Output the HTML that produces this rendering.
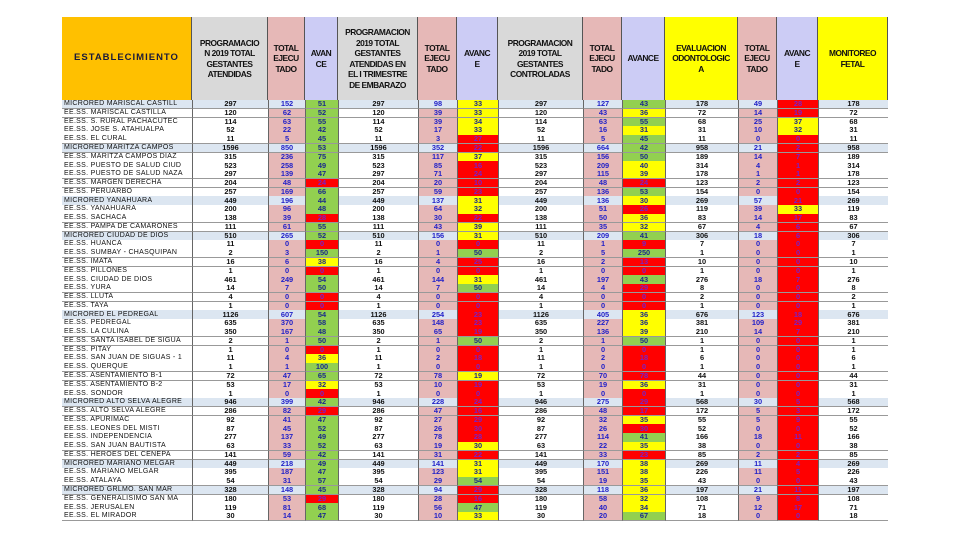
<!DOCTYPE html>
<html><head><meta charset="utf-8">
<style>
body{margin:0;width:960px;height:540px;background:#fff;overflow:hidden;position:relative;font-family:"Liberation Sans",Arial,sans-serif}
.h{position:absolute;top:17px;height:83px;display:flex;align-items:center;justify-content:center;text-align:center;font-size:8.4px;font-weight:bold;color:#111;line-height:10.5px;letter-spacing:-0.5px;box-sizing:border-box;border-right:1px solid #555}
.c{position:absolute;box-sizing:border-box;display:flex;align-items:center;justify-content:center;font-size:7.4px;line-height:8px;font-weight:bold;border-bottom:1px solid #999;overflow:hidden;white-space:nowrap}
.n{justify-content:flex-start;padding-left:2px;font-weight:normal;color:#333;letter-spacing:0.3px;font-size:7px}
</style></head><body>
<div id="tbl"></div>
<script>
const names=["MICRORED MARISCAL CASTILL","EE.SS. MARISCAL CASTILLA","EE.SS. S. RURAL PACHACUTEC","EE.SS. JOSE S. ATAHUALPA","EE.SS. EL CURAL","MICRORED MARITZA CAMPOS","EE.SS. MARITZA CAMPOS DIAZ","EE.SS. PUESTO DE SALUD CIUD","EE.SS. PUESTO DE SALUD NAZA","EE.SS. MARGEN DERECHA","EE.SS. PERUARBO","MICRORED YANAHUARA","EE.SS. YANAHUARA","EE.SS. SACHACA","EE.SS. PAMPA DE CAMARONES","MICRORED CIUDAD DE DIOS","EE.SS. HUANCA","EE.SS. SUMBAY - CHASQUIPAN","EE.SS. IMATA","EE.SS. PILLONES","EE.SS. CIUDAD DE DIOS","EE.SS. YURA","EE.SS. LLUTA","EE.SS. TAYA","MICRORED EL PEDREGAL","EE.SS. PEDREGAL","EE.SS. LA CULINA","EE.SS. SANTA ISABEL DE SIGUA","EE.SS. PITAY","EE.SS. SAN JUAN DE SIGUAS - 1","EE.SS. QUERQUE","EE.SS. ASENTAMIENTO B-1","EE.SS. ASENTAMIENTO B-2","EE.SS. SONDOR","MICRORED ALTO SELVA ALEGRE","EE.SS. ALTO SELVA ALEGRE","EE.SS. APURIMAC","EE.SS. LEONES DEL MISTI","EE.SS. INDEPENDENCIA","EE.SS. SAN JUAN BAUTISTA","EE.SS. HEROES DEL CENEPA","MICRORED MARIANO MELGAR","EE.SS. MARIANO MELGAR","EE.SS. ATALAYA","MICRORED GRLMO. SAN MAR","EE.SS. GENERALISIMO SAN MA","EE.SS. JERUSALEN","EE.SS. EL MIRADOR"];
const rows=[
"297 152 51g 297 98 33y 297 127 43g 178 49 28r 178",
"120 62 52g 120 39 33y 120 43 36y 72 14 19r 72",
"114 63 55g 114 39 34y 114 63 55g 68 25 37y 68",
"52 22 42g 52 17 33y 52 16 31y 31 10 32y 31",
"11 5 45g 11 3 27r 11 5 45g 11 0 0r 11",
"1596 850 53g 1596 352 22r 1596 664 42g 958 21 2r 958",
"315 236 75g 315 117 37y 315 156 50g 189 14 7r 189",
"523 258 49g 523 85 16r 523 209 40y 314 4 1r 314",
"297 139 47g 297 71 24r 297 115 39y 178 1 1r 178",
"204 48 24r 204 20 10r 204 48 24r 123 2 2r 123",
"257 169 66g 257 59 23r 257 136 53g 154 0 0r 154",
"449 196 44g 449 137 31y 449 136 30y 269 57 21r 269",
"200 96 48g 200 64 32y 200 51 26r 119 39 33y 119",
"138 39 28r 138 30 22r 138 50 36y 83 14 17r 83",
"111 61 55g 111 43 39y 111 35 32y 67 4 6r 67",
"510 265 52g 510 156 31y 510 209 41g 306 18 6r 306",
"11 0 0r 11 0 0r 11 1 9r 7 0 0r 7",
"2 3 150g 2 1 50g 2 5 250g 1 0 0r 1",
"16 6 38y 16 4 25r 16 2 13r 10 0 0r 10",
"1 0 0r 1 0 0r 1 0 0r 1 0 0r 1",
"461 249 54g 461 144 31y 461 197 43g 276 18 7r 276",
"14 7 50g 14 7 50g 14 4 29r 8 0 0r 8",
"4 0 0r 4 0 0r 4 0 0r 2 0 0r 2",
"1 0 0r 1 0 0r 1 0 0r 1 0 0r 1",
"1126 607 54g 1126 254 23r 1126 405 36y 676 123 18r 676",
"635 370 58g 635 148 23r 635 227 36y 381 109 29r 381",
"350 167 48g 350 65 19r 350 136 39y 210 14 7r 210",
"2 1 50g 2 1 50g 2 1 50g 1 0 0r 1",
"1 0 0r 1 0 0r 1 0 0r 1 0 0r 1",
"11 4 36y 11 2 18r 11 2 18r 6 0 0r 6",
"1 1 100g 1 0 0r 1 0 0r 1 0 0r 1",
"72 47 65g 72 78 19y 72 70 78r 44 0 0r 44",
"53 17 32y 53 10 19r 53 19 36y 31 0 0r 31",
"1 0 0r 1 0 0r 1 0 0r 1 0 0r 1",
"946 399 42g 946 228 24r 946 275 29r 568 30 5r 568",
"286 82 29r 286 47 16r 286 48 17r 172 5 3r 172",
"92 41 47g 92 27 29r 92 32 35y 55 5 9r 55",
"87 45 52g 87 26 30r 87 26 30r 52 0 0r 52",
"277 137 49g 277 78 28r 277 114 41g 166 18 11r 166",
"63 33 52g 63 19 30y 63 22 35y 38 0 0r 38",
"141 59 42g 141 31 22r 141 33 23r 85 2 2r 85",
"449 218 49g 449 141 31y 449 170 38y 269 11 4r 269",
"395 187 47g 395 123 31y 395 151 38y 226 11 5r 226",
"54 31 57g 54 29 54g 54 19 35y 43 0 0r 43",
"328 148 45g 328 94 29r 328 118 36y 197 21 11r 197",
"180 53 29r 180 28 16r 180 58 32y 108 9 8r 108",
"119 81 68g 119 56 47g 119 40 34y 71 12 17r 71",
"30 14 47g 30 10 33y 30 20 67g 18 0 0r 18"];
const edges=[62,192,268,305,338,418,457,498,583,622,665,738,777,818,888];
const kinds=["n","p","t","a","p","t","a","p","t","a","p","t","a","p"];
const heads=[["ESTABLECIMIENTO","#ffc000"],["PROGRAMACIO<br>N 2019 TOTAL<br>GESTANTES<br>ATENDIDAS","#d9d9d9"],["TOTAL<br>EJECU<br>TADO","#e6b8b7"],["AVAN<br>CE","#ccccf5"],["PROGRAMACION<br>2019 TOTAL<br>GESTANTES<br>ATENDIDAS EN<br>EL I TRIMESTRE<br>DE EMBARAZO","#d9d9d9"],["TOTAL<br>EJECU<br>TADO","#e6b8b7"],["AVANC<br>E","#ccccf5"],["PROGRAMACION<br>2019 TOTAL<br>GESTANTES<br>CONTROLADAS","#d9d9d9"],["TOTAL<br>EJECU<br>TADO","#e6b8b7"],["AVANCE","#ccccf5"],["EVALUACION<br>ODONTOLOGIC<br>A","#ffff00"],["TOTAL<br>EJECU<br>TADO","#e6b8b7"],["AVANC<br>E","#ccccf5"],["MONITOREO<br>FETAL","#ffff00"]];
const tbl=document.getElementById('tbl');
heads.forEach((h,j)=>{
  const d=document.createElement('div');
  d.className='h';
  
  
  d.style.left=edges[j]+'px';d.style.width=(edges[j+1]-edges[j])+'px';d.style.background=h[1];
  if(j==0){d.style.fontSize='9.5px';d.style.letterSpacing='1px';d.style.color='#1a1a3a';}
  d.innerHTML=h[0];tbl.appendChild(d);
});
const top0=100, rh=8.77;
const colr={g:'#92d050',y:'#ffff00',r:'#ff0000'};
names.forEach((nm,i)=>{
  const micro=nm.startsWith('MICRORED');
  const vals=[nm].concat(rows[i].split(' '));
  vals.forEach((v,j)=>{
    const d=document.createElement('div');
    d.className='c'+(j==0?' n':'');
    
    
    d.style.left=edges[j]+'px';d.style.width=(edges[j+1]-edges[j])+'px';
    d.style.top=(top0+i*rh)+'px';d.style.height=(rh+0.5)+'px';
    let bg='#fff',col='#111',txt=v;
    const k=kinds[j];
    if(k=='n'){bg=micro?'#dce6f1':'#fff';}
    else if(k=='p'){bg=micro?'#dce6f1':'#fff';}
    else if(k=='t'){bg=micro?'#dce6f1':'#e6b8b7';col='#1f1fc8';}
    else {const c=v.slice(-1);txt=v.slice(0,-1);bg=colr[c];col=c=='r'?'#7a20c8':'#1a2a8a';}
    if(j>=1)d.style.borderLeft='1px solid #666';
    d.style.background=bg;d.style.color=col;d.textContent=txt;
    tbl.appendChild(d);
  });
});
</script>
</body></html>
